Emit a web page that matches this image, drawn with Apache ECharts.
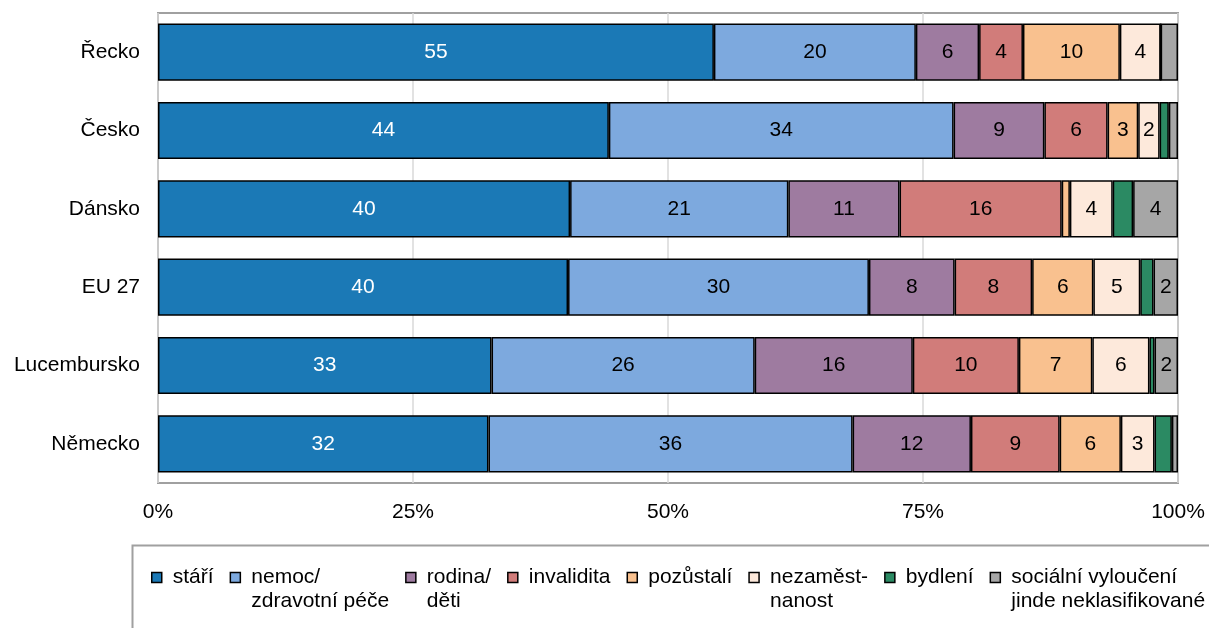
<!DOCTYPE html>
<html>
<head>
<meta charset="utf-8">
<script src="https://cdn.jsdelivr.net/npm/echarts@6/dist/echarts.min.js"></script>
<style>
html,body{margin:0;padding:0;background:#fff;}
#c{width:1209px;height:628px;}
</style>
</head>
<body>
<div id="c"></div>
<script>
const categories = ['Řecko', 'Česko', 'Dánsko', 'EU 27', 'Lucembursko', 'Německo'];
const seriesNames = ['stáří', 'nemoc/\nzdravotní péče', 'rodina/\nděti', 'invalidita', 'pozůstalí', 'nezaměst-\nnanost', 'bydlení', 'sociální vyloučení\njinde neklasifikované'];
const stari      = [54.5, 44.2, 40.4, 40.2, 32.7, 32.4];
const nemoc      = [19.8, 33.8, 21.4, 29.5, 25.8, 35.7];
const rodina     = [6.2, 8.9, 10.9, 8.4, 15.5, 11.6];
const invalidita = [4.3, 6.2, 15.9, 7.6, 10.4, 8.7];
const pozustali  = [9.5, 3.0, 0.8, 6.0, 7.2, 6.0];
const nezam      = [4.0, 2.1, 4.2, 4.6, 5.6, 3.3];
const bydleni    = [0.0, 0.9, 2.0, 1.3, 0.5, 1.7];
const socialni   = [1.7, 0.9, 4.4, 2.4, 2.3, 0.6];
const xTicks = ['0%', '25%', '50%', '75%', '100%'];

const seriesData = [stari, nemoc, rodina, invalidita, pozustali, nezam, bydleni, socialni];
const colors = ['#1B79B6', '#7DA9DE', '#9E7BA0', '#D17C7A', '#F9C18F', '#FDE9DB', '#2B8A63', '#A6A6A6'];
const labelColors = ['#ffffff', '#000', '#000', '#000', '#000', '#000', '#000', '#000'];
const FS = 21;
const FONT = 'Liberation Sans, Arial, sans-serif';

const chart = echarts.init(document.getElementById('c'));
const series = seriesNames.map((name, i) => ({
  name: name,
  type: 'bar',
  stack: 'total',
  barCategoryGap: '27%',
  data: seriesData[i],
  itemStyle: { color: colors[i], borderColor: '#000', borderWidth: 1.5 },
  label: {
    show: true,
    position: 'inside',
    color: labelColors[i],
    fontSize: FS,
    fontFamily: FONT,
    formatter: p => (p.value >= 2.05 ? String(Math.round(p.value)) : '')
  },
  emphasis: { disabled: true }
}));

chart.setOption({
  animation: false,
  color: colors,
  grid: { left: 158, right: 31, top: 13, bottom: 145, show: true, borderColor: '#A0A0A0', borderWidth: 2, containLabel: false },
  xAxis: {
    type: 'value', min: 0, max: 100, interval: 25,
    axisLine: { show: false }, axisTick: { show: false },
    splitLine: { show: true, lineStyle: { color: '#D9D9D9', width: 1.5 } },
    axisLabel: {
      margin: 19, fontSize: FS, fontFamily: FONT, color: '#000',
      formatter: v => xTicks[Math.round(v / 25)]
    }
  },
  yAxis: {
    type: 'category', data: categories, inverse: true,
    axisLine: { show: false }, axisTick: { show: false },
    axisLabel: { margin: 18, fontSize: FS, fontFamily: FONT, color: '#000' }
  },
  legend: {
    left: 151, top: 541.5, padding: 0, itemGap: 16,
    itemWidth: 10, itemHeight: 10, icon: 'rect',
    itemStyle: { borderColor: '#000', borderWidth: 1.5 },
    textStyle: { fontSize: FS, fontFamily: FONT, color: '#000', lineHeight: 24, padding: [0, 0, 0, 6] },
    formatter: n => (n.indexOf('\n') >= 0 ? '\n' + n : n),
    data: seriesNames,
    selectedMode: false
  },
  graphic: [{
    type: 'rect', left: 130, top: 543, silent: true,
    shape: { width: 1100, height: 100 },
    style: { fill: 'none', stroke: '#A0A0A0', lineWidth: 2 }
  }],
  series: series
});
</script>
</body>
</html>
